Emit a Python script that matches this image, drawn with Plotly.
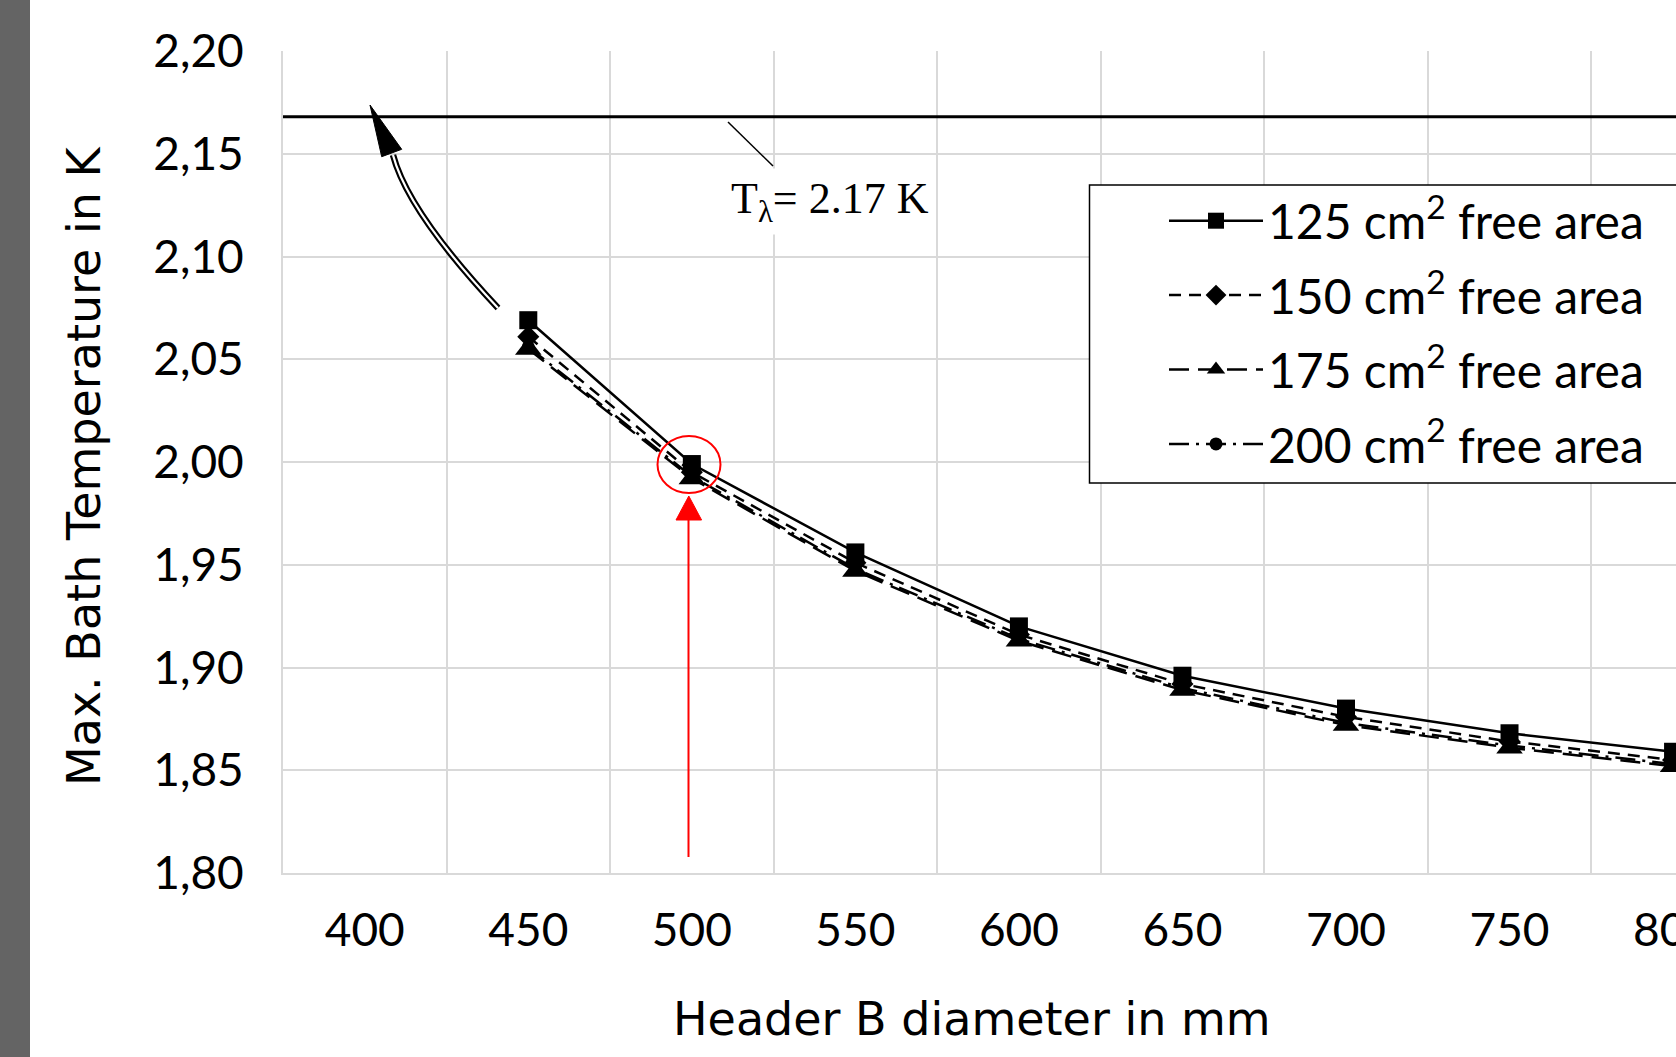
import plotly.graph_objects as go

# ---------------- data ----------------
diameters = [450, 500, 550, 600, 650, 700, 750, 800]
t_125 = [2.069, 1.999, 1.956, 1.920, 1.896, 1.880, 1.868, 1.859]
t_150 = [2.061, 1.995, 1.951, 1.916, 1.892, 1.876, 1.864, 1.855]
t_175 = [2.055, 1.992, 1.947, 1.913, 1.889, 1.872, 1.861, 1.852]
t_200 = [2.056, 1.993, 1.948, 1.914, 1.890, 1.873, 1.862, 1.853]
names = ["125 cm<sup>2</sup> free area", "150 cm<sup>2</sup> free area",
         "175 cm<sup>2</sup> free area", "200 cm<sup>2</sup> free area"]
x_ticks = [400, 450, 500, 550, 600, 650, 700, 750, 800]
y_ticks = [1.80, 1.85, 1.90, 1.95, 2.00, 2.05, 2.10, 2.15, 2.20]
T_lambda = 2.168

FONT = "Lato"
TITLE_FONT = "DejaVu Sans"
W, H = 1676, 1057
ML, MR, MT, MB = 283, 0, 51, 184
PW, PH = W - ML - MR, H - MT - MB
X0, X1 = 375, 800.9
Y0, Y1 = 1.80, 2.20


def px2x(px):
    return X0 + (px - ML) / PW * (X1 - X0)


def py2y(py):
    return Y1 - (py - MT) / PH * (Y1 - Y0)


def px2p(px):
    return (px - ML) / PW


def py2p(py):
    return (MT + PH - py) / PH


fig = go.Figure()

series = [
    (t_150, names[1], "diamond", 17, "12px,8px", 2),
    (t_200, names[3], "circle", 13, "20px,7px,3px,7px", 4),
    (t_175, names[2], "triangle-up", 23, "20px,9px", 3),
    (t_125, names[0], "square", 18, "solid", 1),
]
for vals, nm, sym, sz, dash, rank in series:
    fig.add_trace(go.Scatter(
        x=diameters, y=vals, name=nm, mode="lines+markers",
        line=dict(color="black", width=2.5, dash=dash),
        marker=dict(symbol=sym, size=sz, color="black"),
        legendrank=rank, legendgroup=nm, cliponaxis=False,
    ))

shapes = []
# grey bar at left edge
shapes.append(dict(type="rect", xref="paper", yref="paper",
                   x0=px2p(-5), x1=px2p(30), y0=py2p(H + 10), y1=py2p(-10),
                   fillcolor="#646464", line=dict(width=0), layer="above"))
# legend box
shapes.append(dict(type="rect", xref="paper", yref="paper",
                   x0=px2p(1089.5), x1=px2p(1700), y0=py2p(483), y1=py2p(185),
                   fillcolor="white", line=dict(color="black", width=1.5), layer="above"))
# T lambda line
shapes.append(dict(type="line", xref="x", yref="y", x0=X0, x1=X1,
                   y0=T_lambda, y1=T_lambda, line=dict(color="black", width=3)))
# leader line to label
shapes.append(dict(type="line", xref="x", yref="y",
                   x0=px2x(728), y0=py2y(122), x1=px2x(773), y1=py2y(166),
                   line=dict(color="black", width=1.5)))
# curved double arrow (shaft)
p0 = (px2x(498), py2y(308))
pc = (px2x(408), py2y(212))
p2 = (px2x(393), py2y(155))
arc = f"M {p0[0]},{p0[1]} Q {pc[0]},{pc[1]} {p2[0]},{p2[1]}"
shapes.append(dict(type="path", xref="x", yref="y", path=arc,
                   line=dict(color="black", width=6.5)))
shapes.append(dict(type="path", xref="x", yref="y", path=arc,
                   line=dict(color="white", width=2.2)))
# arrow head
head = (f"M {px2x(370)},{py2y(105)} L {px2x(381.7)},{py2y(156.7)} "
        f"L {px2x(401.7)},{py2y(149.3)} Z")
shapes.append(dict(type="path", xref="x", yref="y", path=head,
                   fillcolor="black", line=dict(color="black", width=1)))
# red circle
shapes.append(dict(type="circle", xref="x", yref="y",
                   x0=px2x(657.5), x1=px2x(720.5), y0=py2y(493), y1=py2y(436),
                   line=dict(color="#ff0000", width=2)))
# red arrow
shapes.append(dict(type="line", xref="x", yref="y",
                   x0=px2x(688.5), x1=px2x(688.5), y0=py2y(857), y1=py2y(515),
                   line=dict(color="#ff0000", width=2)))
shapes.append(dict(type="path", xref="x", yref="y",
                   path=(f"M {px2x(688.8)},{py2y(496)} L {px2x(676)},{py2y(520)} "
                         f"L {px2x(701.6)},{py2y(520)} Z"),
                   fillcolor="#ff0000", line=dict(color="#ff0000", width=1)))

annotations = [
    dict(text="T<sub>λ</sub>= 2.17 K", xref="paper", yref="paper",
         x=px2p(830), y=py2p(201), xanchor="center", yanchor="middle",
         showarrow=False, bgcolor="white", borderpad=5,
         font=dict(family="Liberation Serif", size=44, color="black")),
    dict(text="Max. Bath Temperature in K", xref="paper", yref="paper",
         x=px2p(84), y=py2p(466), xanchor="center", yanchor="middle",
         textangle=-90, showarrow=False,
         font=dict(family=TITLE_FONT, size=46, color="black")),
    dict(text="Header B diameter in mm", xref="paper", yref="paper",
         x=px2p(971.5), y=py2p(1019), xanchor="center", yanchor="middle",
         showarrow=False, font=dict(family=TITLE_FONT, size=46, color="black")),
]

fig.update_layout(
    width=W, height=H,
    margin=dict(l=ML, r=MR, t=MT, b=MB, pad=0, autoexpand=False),
    paper_bgcolor="white", plot_bgcolor="white",
    separators=",.",
    font=dict(family=FONT, size=46, color="black"),
    showlegend=True,
    legend=dict(x=px2p(1164), y=py2p(183), xanchor="left", yanchor="top",
                bgcolor="rgba(0,0,0,0)", borderwidth=0, itemwidth=94,
                tracegroupgap=9, font=dict(family=FONT, size=48, color="black")),
    shapes=shapes, annotations=annotations,
)
fig.update_xaxes(
    range=[X0, X1], tickvals=x_ticks, ticktext=[str(v) for v in x_ticks],
    showgrid=False, zeroline=False,
    showline=True, linecolor="#d9d9d9", linewidth=2,
    ticks="", ticklabelstandoff=16, ticklabeloverflow="allow",
    tickfont=dict(family=FONT, size=46, color="black"),
    minor=dict(tick0=375, dtick=50, showgrid=True, gridcolor="#d9d9d9", gridwidth=2, ticks=""),
)
fig.update_yaxes(
    range=[Y0, Y1], tickvals=y_ticks, tickformat=".2f",
    showgrid=True, gridcolor="#d9d9d9", gridwidth=2, zeroline=False,
    showline=True, linecolor="#d9d9d9", linewidth=2,
    ticks="", ticklabelstandoff=28,
    tickfont=dict(family=FONT, size=46, color="black"),
)

fig.write_html("out.html", config={"displayModeBar": False},
               post_script="document.body.style.margin='0px';")
